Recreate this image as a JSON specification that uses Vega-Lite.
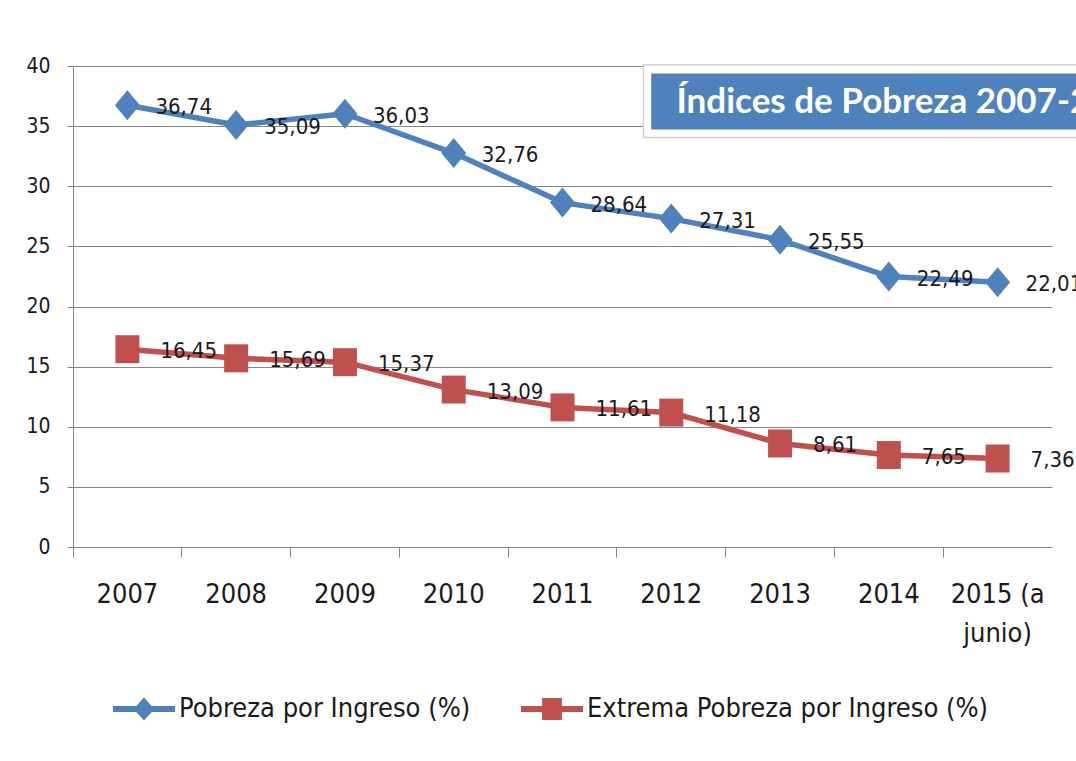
{
  "$schema": "https://vega.github.io/schema/vega-lite/v6.json",
  "width": 979,
  "height": 481,
  "autosize": {"type": "none"},
  "padding": {"left": 73, "top": 66, "right": 24, "bottom": 214},
  "background": "white",
  "config": {
    "view": {"stroke": null},
    "font": "DejaVu Sans Condensed, DejaVu Sans, sans-serif",
    "locale": {"number": {"decimal": ",", "thousands": ".", "grouping": [3], "currency": ["", " €"]}},
    "legend": {
      "title": null, "orient": "none", "direction": "horizontal",
      "legendX": 40, "legendY": 612, "padding": 0,
      "symbolSize": 3844, "symbolStrokeWidth": 0, "symbolOpacity": 1, "labelOffset": 4, "columnPadding": 50,
      "labelFontSize": 27, "labelColor": "#1a1a1a", "labelLimit": 600
    }
  },
  "datasets": {
    "serie": [
      {"anio": "2007", "serie": "Pobreza por Ingreso (%)", "valor": 36.74},
      {"anio": "2008", "serie": "Pobreza por Ingreso (%)", "valor": 35.09},
      {"anio": "2009", "serie": "Pobreza por Ingreso (%)", "valor": 36.03},
      {"anio": "2010", "serie": "Pobreza por Ingreso (%)", "valor": 32.76},
      {"anio": "2011", "serie": "Pobreza por Ingreso (%)", "valor": 28.64},
      {"anio": "2012", "serie": "Pobreza por Ingreso (%)", "valor": 27.31},
      {"anio": "2013", "serie": "Pobreza por Ingreso (%)", "valor": 25.55},
      {"anio": "2014", "serie": "Pobreza por Ingreso (%)", "valor": 22.49},
      {"anio": "2015 (a junio)", "serie": "Pobreza por Ingreso (%)", "valor": 22.01},
      {"anio": "2007", "serie": "Extrema Pobreza por Ingreso (%)", "valor": 16.45},
      {"anio": "2008", "serie": "Extrema Pobreza por Ingreso (%)", "valor": 15.69},
      {"anio": "2009", "serie": "Extrema Pobreza por Ingreso (%)", "valor": 15.37},
      {"anio": "2010", "serie": "Extrema Pobreza por Ingreso (%)", "valor": 13.09},
      {"anio": "2011", "serie": "Extrema Pobreza por Ingreso (%)", "valor": 11.61},
      {"anio": "2012", "serie": "Extrema Pobreza por Ingreso (%)", "valor": 11.18},
      {"anio": "2013", "serie": "Extrema Pobreza por Ingreso (%)", "valor": 8.61},
      {"anio": "2014", "serie": "Extrema Pobreza por Ingreso (%)", "valor": 7.65},
      {"anio": "2015 (a junio)", "serie": "Extrema Pobreza por Ingreso (%)", "valor": 7.36}
    ],
    "titulo": [{"titulo": "Índices de Pobreza 2007-2015"}]
  },
  "layer": [
    {
      "data": {"name": "serie"},
      "mark": {"type": "line", "strokeWidth": 5.5, "strokeJoin": "round", "strokeCap": "round"},
      "encoding": {
        "x": {
          "field": "anio", "type": "nominal", "title": null,
          "scale": {"domain": ["2007", "2008", "2009", "2010", "2011", "2012", "2013", "2014", "2015 (a junio)"], "paddingInner": 0, "paddingOuter": 0},
          "axis": {
            "labelAngle": 0, "bandPosition": 0,
            "labelExpr": "datum.value == '2015 (a junio)' ? ['2015 (a', 'junio)'] : datum.value",
            "labelFontSize": 27, "labelColor": "#1a1a1a", "labelLineHeight": 39,
            "labelBaseline": "top", "labelPadding": 24, "labelOverlap": false, "labelBound": false,
            "tickSize": 10, "tickColor": "#868686", "domainColor": "#868686", "grid": false
          }
        },
        "y": {
          "field": "valor", "type": "quantitative", "title": null,
          "scale": {"domain": [0, 40], "nice": false, "zero": true},
          "axis": {
            "values": [0, 5, 10, 15, 20, 25, 30, 35, 40],
            "labelFontSize": 21, "labelColor": "#1a1a1a", "labelPadding": 17,
            "tickSize": 6, "tickColor": "#868686", "domainColor": "#868686",
            "gridColor": "#868686", "gridOpacity": 1, "gridWidth": 1
          }
        },
        "color": {"field": "serie", "type": "nominal",
          "scale": {"domain": ["Pobreza por Ingreso (%)", "Extrema Pobreza por Ingreso (%)"], "range": ["#4F81BD", "#C0504D"]}}
      }
    },
    {
      "data": {"name": "serie"},
      "mark": {"type": "point", "filled": true, "opacity": 1, "size": 0, "strokeWidth": 0},
      "encoding": {
        "x": {"field": "anio", "type": "nominal"},
        "y": {"field": "valor", "type": "quantitative"},
        "color": {"field": "serie", "type": "nominal"},
        "shape": {"field": "serie", "type": "nominal",
          "scale": {"domain": ["Pobreza por Ingreso (%)", "Extrema Pobreza por Ingreso (%)"], "range": ["M-1,-0.1H1V0.1H-1Z M0,-0.37L0.34,0L0,0.37L-0.34,0Z", "M-1,-0.1H1V0.1H-1Z M-0.32,-0.355H0.32V0.355H-0.32Z"]}}
      }
    },
    {
      "data": {"name": "serie"},
      "transform": [{"filter": {"field": "serie", "equal": "Pobreza por Ingreso (%)"}}],
      "mark": {"type": "point", "filled": true, "opacity": 1, "size": 625, "strokeWidth": 0, "color": "#4F81BD", "shape": "M0,-1.2L1,0L0,1.2L-1,0Z"},
      "encoding": {
        "x": {"field": "anio", "type": "nominal"},
        "y": {"field": "valor", "type": "quantitative"}
      }
    },
    {
      "data": {"name": "serie"},
      "transform": [{"filter": {"field": "serie", "equal": "Extrema Pobreza por Ingreso (%)"}}],
      "mark": {"type": "point", "filled": true, "opacity": 1, "size": 625, "strokeWidth": 0, "color": "#C0504D", "shape": "M-0.96,-1.12H0.96V1.12H-0.96Z"},
      "encoding": {
        "x": {"field": "anio", "type": "nominal"},
        "y": {"field": "valor", "type": "quantitative"}
      }
    },
    {
      "data": {"name": "serie"},
      "transform": [{"filter": {"field": "serie", "equal": "Pobreza por Ingreso (%)"}}],
      "mark": {"type": "text", "align": "left", "baseline": "middle", "dx": 28, "dy": 2, "fontSize": 22, "color": "#1a1a1a"},
      "encoding": {
        "x": {"field": "anio", "type": "nominal"},
        "y": {"field": "valor", "type": "quantitative"},
        "text": {"field": "valor", "type": "quantitative", "format": ".2f"}
      }
    },
    {
      "data": {"name": "serie"},
      "transform": [{"filter": {"field": "serie", "equal": "Extrema Pobreza por Ingreso (%)"}}],
      "mark": {"type": "text", "align": "left", "baseline": "middle", "dx": 33, "dy": 2, "fontSize": 22, "color": "#1a1a1a"},
      "encoding": {
        "x": {"field": "anio", "type": "nominal"},
        "y": {"field": "valor", "type": "quantitative"},
        "text": {"field": "valor", "type": "quantitative", "format": ".2f"}
      }
    },
    {
      "data": {"name": "titulo"},
      "mark": {"type": "rect", "fill": "white", "stroke": "#cfcfcf", "strokeWidth": 1.5},
      "encoding": {
        "x": {"datum": "2012", "type": "nominal", "bandPosition": 0.245},
        "x2": {"datum": "2015 (a junio)", "bandPosition": 1.4},
        "y": {"datum": 40.1, "type": "quantitative"},
        "y2": {"datum": 34.05}
      }
    },
    {
      "data": {"name": "titulo"},
      "mark": {"type": "rect", "fill": "#4F81BD"},
      "encoding": {
        "x": {"datum": "2012", "type": "nominal", "bandPosition": 0.316},
        "x2": {"datum": "2015 (a junio)", "bandPosition": 1.4},
        "y": {"datum": 39.37, "type": "quantitative"},
        "y2": {"datum": 34.72}
      }
    },
    {
      "data": {"name": "titulo"},
      "mark": {"type": "text", "align": "left", "baseline": "middle", "font": "Lato", "fontWeight": "bold", "fontSize": 35, "color": "white"},
      "encoding": {
        "x": {"datum": "2012", "type": "nominal", "bandPosition": 0.548},
        "y": {"datum": 37.0, "type": "quantitative"},
        "text": {"field": "titulo", "type": "nominal"}
      }
    }
  ]
}
